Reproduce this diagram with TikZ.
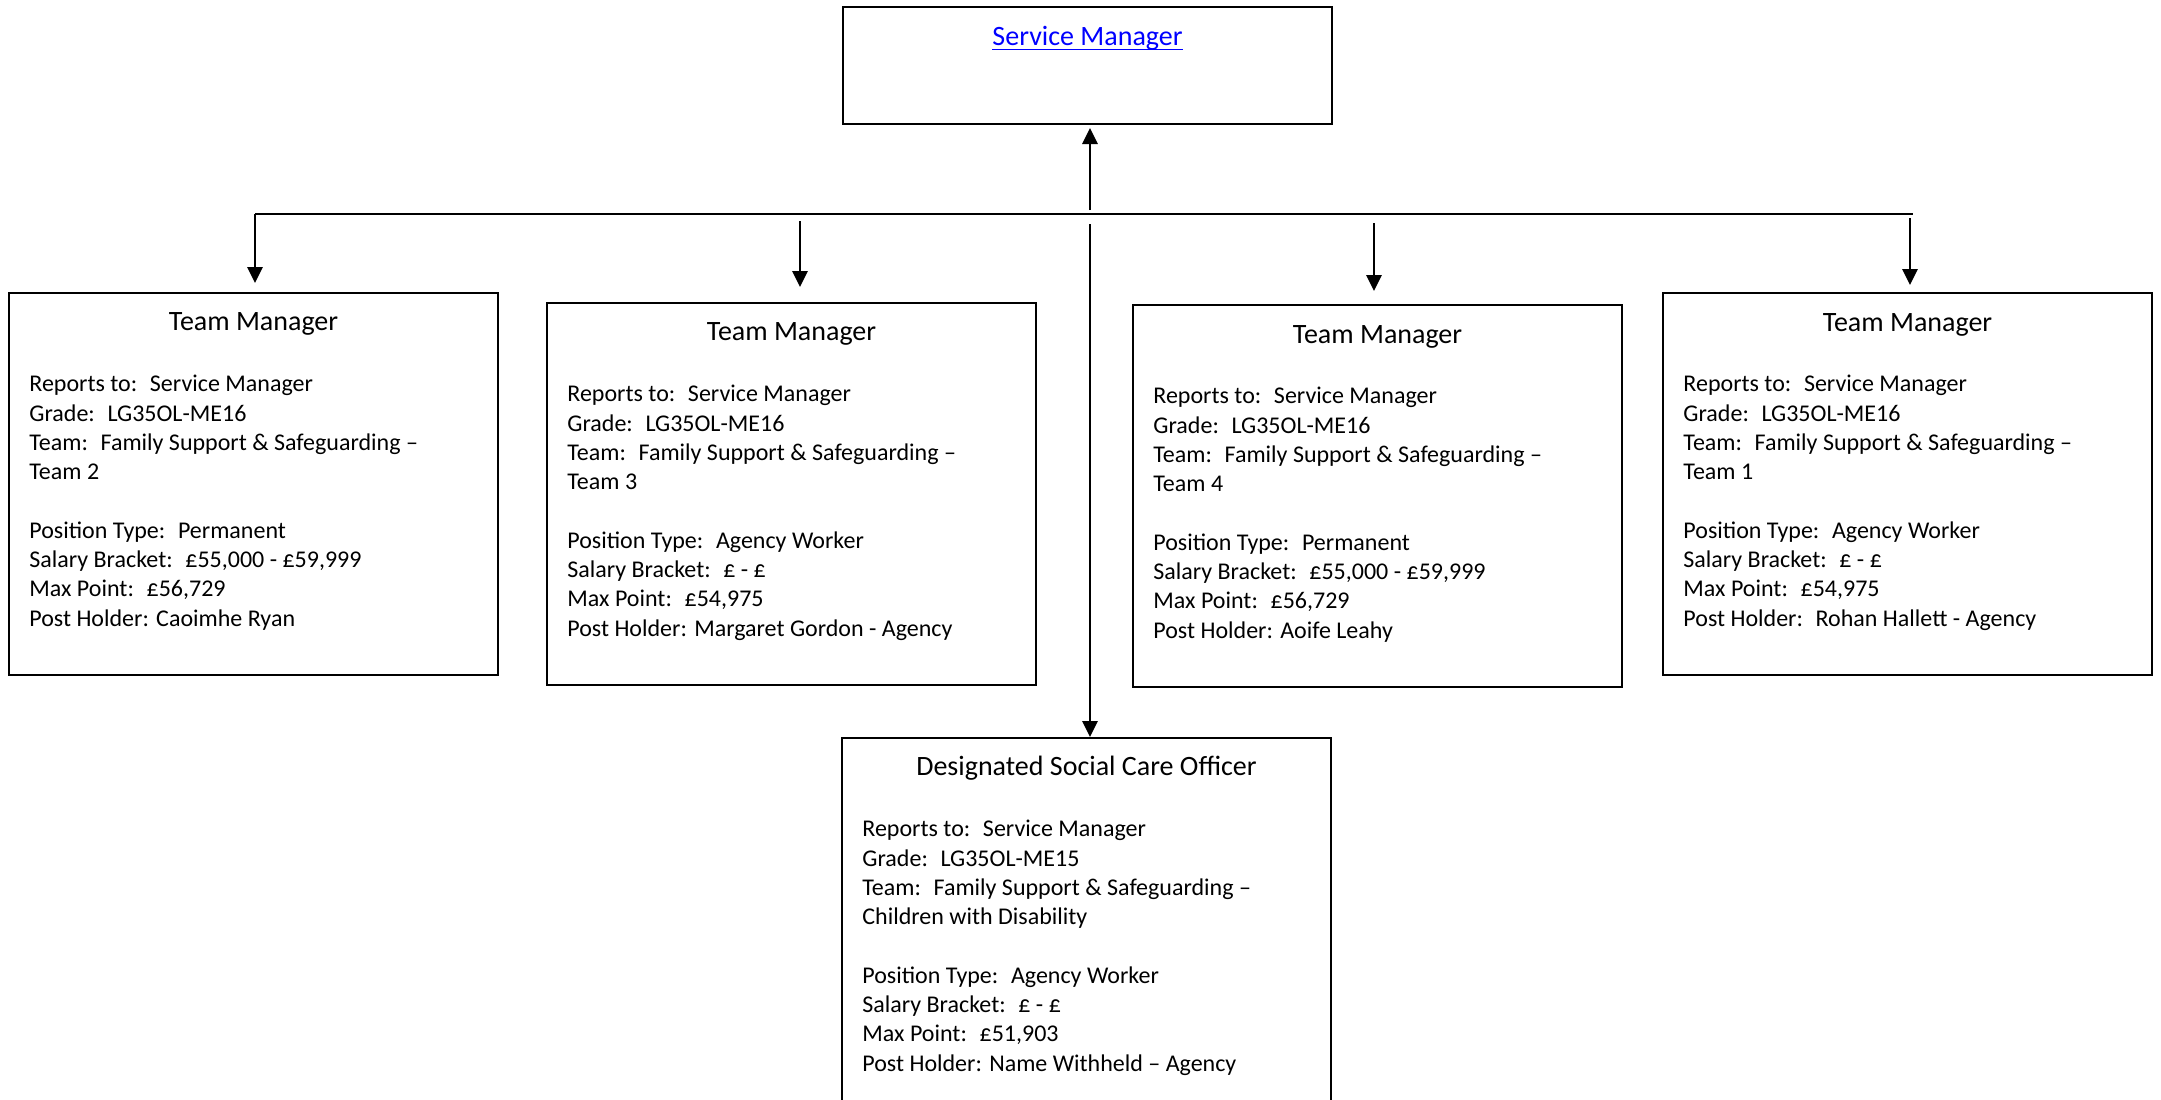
\documentclass[tikz,border=0pt]{standalone}
\usepackage{fontspec}
\setmainfont{Carlito}
\usetikzlibrary{arrows.meta, positioning}

\definecolor{linkblue}{HTML}{0000FF}

\tikzset{
  post/.style={draw, line width=1pt, anchor=north west, inner sep=0pt,
    minimum width=244.5pt, minimum height=191pt},
  role/.style={anchor=base, inner sep=0pt, font=\fontsize{14}{17}\selectfont},
  info/.style={inner sep=0pt, align=left, font=\fontsize{12}{14.65}\selectfont},
  bus/.style={line width=1.4pt},
  link/.style={line width=1.4pt, -{Triangle[width=7.5pt,length=8pt]}},
}

\begin{document}
\begin{tikzpicture}[x=0.5pt, y=-0.5pt]
  \useasboundingbox (0,0) rectangle (2161,1099);
  \clip (0,0) rectangle (2161,1099);

  % boxes
  \node[post, minimum height=58.5pt] (sm) at (842,6) {};
  \node[post] (tm2) at (8,292) {};
  \node[post] (tm3) at (546,302) {};
  \node[post] (tm4) at (1132,304) {};
  \node[post] (tm1) at (1662,292) {};
  \node[post] (dsco) at (841,737) {};

  % titles
  \node[role, text=linkblue] (smr) at ([yshift=-19.5pt]sm.north)
    {\underline{\raisebox{0pt}[\height][1pt]{Service Manager}}};
  \node[role] (tm2r) at ([yshift=-19pt]tm2.north) {Team Manager};
  \node[role] (tm3r) at ([yshift=-19pt]tm3.north) {Team Manager};
  \node[role] (tm4r) at ([yshift=-19.5pt]tm4.north) {Team Manager};
  \node[role] (tm1r) at ([yshift=-19.5pt]tm1.north) {Team Manager};
  \node[role] (dscor) at ([yshift=-19pt]dsco.north) {Designated Social Care Officer};

  % details
  \node[info, below right=41.4pt and 10.5pt of tm2.north west] (tm2i) {%
    Reports to:~ Service Manager\\
    Grade:~ LG35OL-ME16\\
    Team:~ Family Support \& Safeguarding –\\
    Team 2\\[14.65pt]
    Position Type:~ Permanent\\
    Salary Bracket:~ £55,000 - £59,999\\
    Max Point:~ £56,729\\
    Post Holder: Caoimhe Ryan};
  \node[info, below right=41.4pt and 10.5pt of tm3.north west] (tm3i) {%
    Reports to:~ Service Manager\\
    Grade:~ LG35OL-ME16\\
    Team:~ Family Support \& Safeguarding –\\
    Team 3\\[14.65pt]
    Position Type:~ Agency Worker\\
    Salary Bracket:~ £ - £\\
    Max Point:~ £54,975\\
    Post Holder: Margaret Gordon - Agency};
  \node[info, below right=41.4pt and 10.5pt of tm4.north west] (tm4i) {%
    Reports to:~ Service Manager\\
    Grade:~ LG35OL-ME16\\
    Team:~ Family Support \& Safeguarding –\\
    Team 4\\[14.65pt]
    Position Type:~ Permanent\\
    Salary Bracket:~ £55,000 - £59,999\\
    Max Point:~ £56,729\\
    Post Holder: Aoife Leahy};
  \node[info, below right=41.4pt and 10.5pt of tm1.north west] (tm1i) {%
    Reports to:~ Service Manager\\
    Grade:~ LG35OL-ME16\\
    Team:~ Family Support \& Safeguarding –\\
    Team 1\\[14.65pt]
    Position Type:~ Agency Worker\\
    Salary Bracket:~ £ - £\\
    Max Point:~ £54,975\\
    Post Holder:~ Rohan Hallett - Agency};
  \node[info, below right=41.4pt and 10.5pt of dsco.north west] (dscoi) {%
    Reports to:~ Service Manager\\
    Grade:~ LG35OL-ME15\\
    Team:~ Family Support \& Safeguarding –\\
    Children with Disability\\[14.65pt]
    Position Type:~ Agency Worker\\
    Salary Bracket:~ £ - £\\
    Max Point:~ £51,903\\
    Post Holder: Name Withheld – Agency};

  % connectors
  \coordinate (busW) at (255,214);
  \coordinate (busE) at (1913,214);
  \coordinate (up) at (1090,210);
  \coordinate (down) at (1090,224);
  \coordinate (d3) at (800,221);
  \coordinate (d4) at (1374,223);
  \coordinate (d1) at (1910,218);
  \draw[bus] (busW) -- (busE);
  \draw[link, shorten >=1.5pt] (up) -- (up |- sm.south);
  \draw[link] (down) -- (down |- dsco.north);
  \draw[link, shorten >=4.5pt] (busW) -- (busW |- tm2.north);
  \draw[link, shorten >=7.5pt] (d3) -- (d3 |- tm3.north);
  \draw[link, shorten >=6.5pt] (d4) -- (d4 |- tm4.north);
  \draw[link, shorten >=3.5pt] (d1) -- (d1 |- tm1.north);
\end{tikzpicture}
\end{document}
